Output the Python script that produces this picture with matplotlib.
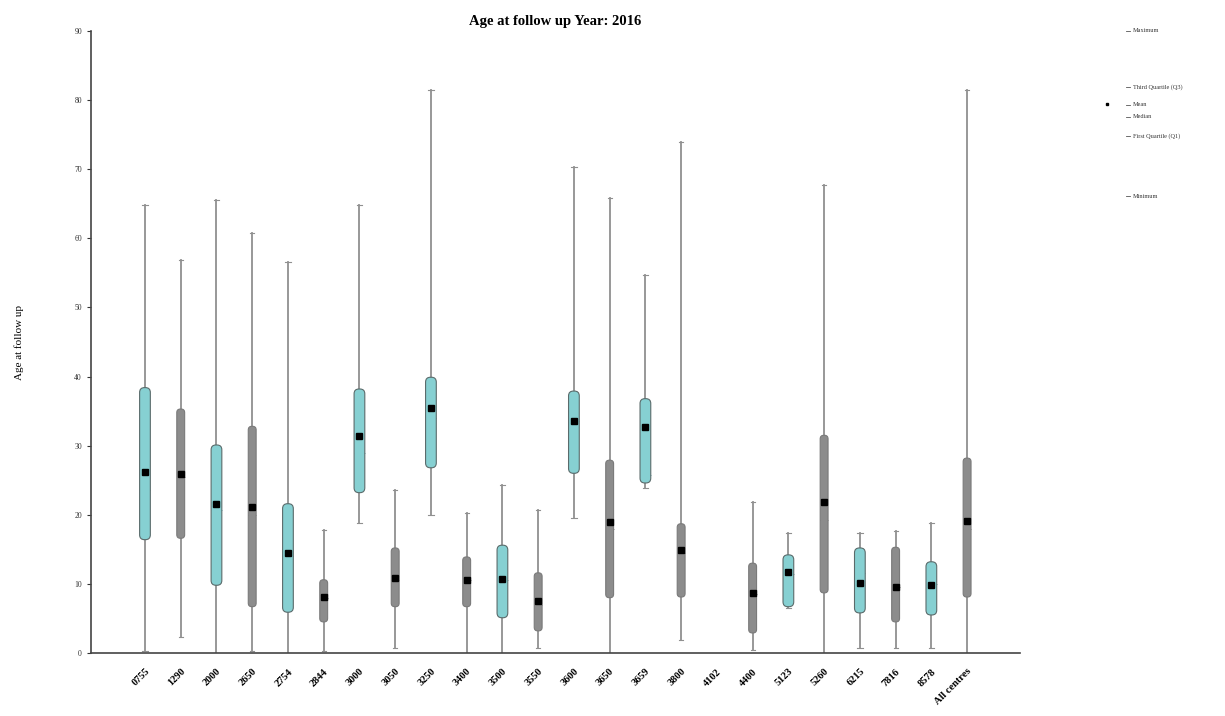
import matplotlib
matplotlib.use("Agg")
import matplotlib.pyplot as plt
from matplotlib.patches import FancyBboxPatch

centres = ["0755", "1290", "2000", "2650", "2754", "2844", "3000", "3050", "3250", "3400",
           "3500", "3550", "3600", "3650", "3659", "3800", "4102", "4400", "5123", "5260",
           "6215", "7816", "8578", "All centres"]
minimum = [0.3, 2.3, 0.0, 0.3, 0.0, 0.3, 18.8, 0.7, 20.0, 0.0,
           0.0, 0.7, 19.5, 0.0, 23.9, 1.9, None, 0.4, 6.5, 0.0,
           0.7, 0.7, 0.7, 0.0]
q1 = [16.4, 16.6, 9.8, 6.7, 5.9, 4.5, 23.2, 6.7, 26.8, 6.7,
      5.1, 3.2, 26.0, 8.0, 24.6, 8.1, None, 2.9, 6.7, 8.7,
      5.8, 4.5, 5.5, 8.1]
median = [23.6, 25.5, 20.7, 20.0, 14.0, 8.0, 29.0, 10.5, 34.0, 10.5,
          10.5, 7.0, 33.5, 18.0, 25.8, 14.5, None, 8.5, 11.5, 19.2,
          11.6, 9.5, 10.0, 18.0]
mean = [26.2, 25.9, 21.6, 21.1, 14.5, 8.1, 31.4, 10.9, 35.5, 10.6,
        10.7, 7.5, 33.6, 19.0, 32.7, 14.9, None, 8.7, 11.7, 21.8,
        10.2, 9.6, 9.9, 19.1]
q3 = [38.4, 35.3, 30.1, 32.8, 21.6, 10.6, 38.2, 15.2, 39.9, 13.9,
      15.6, 11.6, 37.9, 27.9, 36.8, 18.7, None, 13.0, 14.2, 31.5,
      15.2, 15.3, 13.2, 28.2]
maximum = [64.8, 56.9, 65.5, 60.8, 56.6, 17.8, 64.8, 23.6, 81.5, 20.3,
           24.3, 20.7, 70.3, 65.8, 54.7, 74.0, None, 21.9, 17.4, 67.7,
           17.4, 17.6, 18.8, 81.5]

TEAL = "#86d0d2"
GREY = "#8c8c8c"
SERIF = "Liberation Serif"

fig = plt.figure(figsize=(12.25, 7.16), dpi=100)
ax = fig.add_axes([91/1225, 1 - 653/716, (1020 - 91)/1225, (653 - 31)/716])
ax.set_xlim(-1.51, 24.48)
ax.set_ylim(0, 90)

# aspect of data units: px per x unit / px per y unit
px_x = (1020 - 91) / (24.48 + 1.51)
px_y = (653 - 31) / 90.0
aspect = px_x / px_y

for i, c in enumerate(centres):
    if q1[i] is None:
        continue
    teal = (i % 2 == 0)
    face = TEAL if teal else GREY
    edge = "#5a6b6b" if teal else "#7a7a7a"
    w = 0.30 if teal else 0.22
    stats = [dict(med=median[i], q1=q1[i], q3=q3[i], whislo=minimum[i], whishi=maximum[i],
                  mean=mean[i], label=c)]
    res = ax.bxp(stats, positions=[i], widths=w, patch_artist=True,
                 showmeans=True, showfliers=False, showcaps=True,
                 boxprops=dict(facecolor=face, edgecolor=edge, linewidth=0.8),
                 whiskerprops=dict(color="#909090", linewidth=1.3),
                 capprops=dict(color="#909090", linewidth=0.8),
                 medianprops=dict(color="#6fa9ab" if teal else "#7d7d7d", linewidth=0.6),
                 meanprops=dict(marker="s", markerfacecolor="black", markeredgecolor="black",
                                markersize=4, zorder=5),
                 manage_ticks=False)
    for b in res["boxes"]:
        b.set_visible(False)
    rb = FancyBboxPatch((i - w / 2, q1[i]), w, q3[i] - q1[i],
                        boxstyle="round,pad=0,rounding_size=%f" % (w / 2 * 0.9),
                        mutation_aspect=aspect, facecolor=face, edgecolor=edge,
                        linewidth=0.8, zorder=3)
    ax.add_patch(rb)

ax.set_yticks(range(0, 91, 10))
ax.set_xticks(range(len(centres)))
ax.set_xticklabels(centres, rotation=45, ha="right", rotation_mode="anchor",
                   fontsize=7.5, fontweight="bold", family=SERIF)
ax.tick_params(axis="x", length=0, pad=10)
ax.tick_params(axis="y", labelsize=5.5, length=3, direction="out", colors="#333333")
for lab in ax.get_yticklabels():
    lab.set_family(SERIF)
for s in ["top", "right"]:
    ax.spines[s].set_visible(False)
for s in ["left", "bottom"]:
    ax.spines[s].set_color("#444444")
    ax.spines[s].set_linewidth(1.2)

ax.set_title("Age at follow up Year: 2016", fontsize=10.5, fontweight="bold", family=SERIF, pad=4)
ax.set_ylabel("Age at follow up", fontsize=8, family=SERIF, labelpad=36)

# schematic legend on the right
legend_items = [("Maximum", 31), ("Third Quartile (Q3)", 87), ("Mean", 105),
                ("Median", 117), ("First Quartile (Q1)", 136), ("Minimum", 196)]
for txt, ypix in legend_items:
    fig.text(1133/1225, 1 - ypix/716, txt, fontsize=4.5, family=SERIF, va="center", ha="left",
             color="#333333")
    fig.lines.append(plt.Line2D([1126/1225, 1130/1225], [1 - ypix/716] * 2,
                                transform=fig.transFigure, color="#555555", linewidth=0.6))
fig.lines.append(plt.Line2D([1107/1225], [1 - 104/716], transform=fig.transFigure,
                            marker="s", markersize=2, color="black", linestyle="none"))

fig.savefig("out.png", dpi=100)
